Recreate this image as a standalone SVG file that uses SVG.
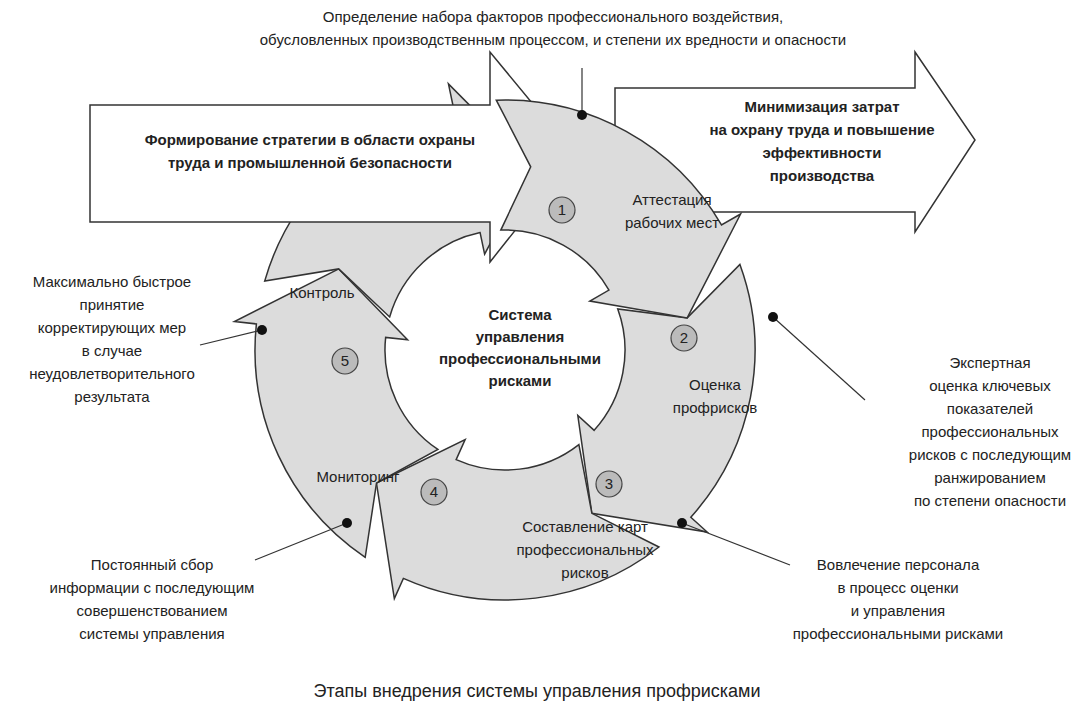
<svg xmlns="http://www.w3.org/2000/svg" xmlns:xlink="http://www.w3.org/1999/xlink" width="1077" height="706" viewBox="0 0 1077 706">
<style>
text{font-family:"Liberation Sans",Arial,sans-serif;font-size:15px;fill:#222;text-anchor:middle}
.b{font-weight:bold}
.big{fill:#fff;stroke:#333;stroke-width:1.5}
.seg{fill:url(#g);stroke:#333;stroke-width:1.5}
.num{fill:#bbb;stroke:#444;stroke-width:1.2}
.ln{stroke:#333;stroke-width:1.2;fill:none}
</style>
<defs>
<radialGradient id="g" cx="505" cy="350" r="270" gradientUnits="userSpaceOnUse">
<stop offset="0.45" stop-color="#f5f5f5"/><stop offset="1" stop-color="#dcdcdc"/>
</radialGradient>
<path id="seg" d="M250,0 A250,250 0 0 1 117.4,220.7 L127.7,240.2 L25.7,183.2 L46,86.5 L56.3,106 A120,120 0 0 0 120,0 L182.2,32.1 Z"/>
</defs>
<rect width="1077" height="706" fill="#fff"/>
<g id="arrow-right"><path class="big" d="M615,88 H915 V52 L975,140 L915,232 V212 H615 Z"/>
<text class="b" x="822" y="112">Минимизация затрат</text>
<text class="b" x="822" y="135">на охрану труда и повышение</text>
<text class="b" x="822" y="158">эффективности</text>
<text class="b" x="822" y="181">производства</text></g>
<g id="seg2"><use xlink:href="#seg" class="seg" transform="translate(505,350) rotate(-20)"/>
<circle class="num" cx="684" cy="338" r="13"/><text x="684" y="343">2</text>
<text x="715" y="390">Оценка</text><text x="715" y="413">профрисков</text></g>
<g id="seg3"><use xlink:href="#seg" class="seg" transform="translate(505,350) rotate(52)"/>
<circle class="num" cx="609" cy="484" r="13"/><text x="609" y="489">3</text>
<text x="585" y="532">Составление карт</text><text x="585" y="555">профессиональных</text><text x="585" y="578">рисков</text></g>
<g id="seg4"><use xlink:href="#seg" class="seg" transform="translate(505,350) rotate(124)"/>
<circle class="num" cx="434" cy="492" r="13"/><text x="434" y="497">4</text>
<text x="358" y="482">Мониторинг</text></g>
<g id="seg5"><use xlink:href="#seg" class="seg" transform="translate(505,350) rotate(196)"/>
<circle class="num" cx="345" cy="361" r="13"/><text x="345" y="366">5</text>
<text x="322" y="298">Контроль</text></g>
<g id="arrow-left"><path class="big" d="M90,105 H490 V52 L575,155 L490,262 V222 H90 Z"/>
<text class="b" x="310" y="145">Формирование стратегии в области охраны</text>
<text class="b" x="310" y="168">труда и промышленной безопасности</text></g>
<g id="seg1"><use xlink:href="#seg" class="seg" transform="translate(505,350) rotate(-92)"/>
<circle class="num" cx="562" cy="210" r="13"/><text x="562" y="215">1</text>
<text x="672" y="205">Аттестация</text><text x="672" y="228">рабочих мест</text></g>
<g id="center"><text class="b" x="520" y="320">Система</text><text class="b" x="520" y="342">управления</text><text class="b" x="520" y="364">профессиональными</text><text class="b" x="520" y="386">рисками</text></g>
<g id="connectors">
<line class="ln" x1="582" y1="115" x2="582" y2="68"/><circle cx="582" cy="115" r="5" fill="#111"/>
<line class="ln" x1="773" y1="317" x2="865" y2="400"/><circle cx="773" cy="317" r="5" fill="#111"/>
<line class="ln" x1="682" y1="523" x2="790" y2="565"/><circle cx="682" cy="523" r="5" fill="#111"/>
<line class="ln" x1="347" y1="523" x2="255" y2="560"/><circle cx="347" cy="523" r="5" fill="#111"/>
<line class="ln" x1="262" y1="330" x2="200" y2="345"/><circle cx="262" cy="330" r="5" fill="#111"/>
</g>
<g id="notes">
<text x="553" y="22">Определение набора факторов профессионального воздействия,</text>
<text x="553" y="45">обусловленных производственным процессом, и степени их вредности и опасности</text>
<text x="990" y="368">Экспертная</text><text x="990" y="391">оценка ключевых</text><text x="990" y="414">показателей</text><text x="990" y="437">профессиональных</text><text x="990" y="460">рисков с последующим</text><text x="990" y="483">ранжированием</text><text x="990" y="506">по степени опасности</text>
<text x="898" y="570">Вовлечение персонала</text><text x="898" y="593">в процесс оценки</text><text x="898" y="616">и управления</text><text x="898" y="639">профессиональными рисками</text>
<text x="152" y="570">Постоянный сбор</text><text x="152" y="593">информации с последующим</text><text x="152" y="616">совершенствованием</text><text x="152" y="639">системы управления</text>
<text x="112" y="287">Максимально быстрое</text><text x="112" y="310">принятие</text><text x="112" y="333">корректирующих мер</text><text x="112" y="356">в случае</text><text x="112" y="379">неудовлетворительного</text><text x="112" y="402">результата</text>
<text x="537" y="697" style="font-size:18px">Этапы внедрения системы управления профрисками</text>
</g>
</svg>
